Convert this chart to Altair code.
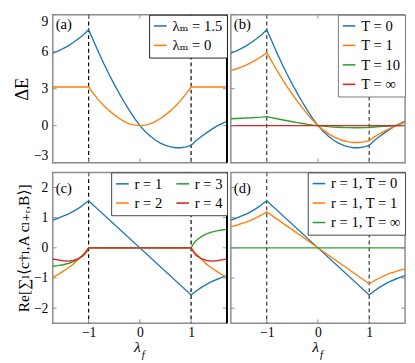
import altair as alt
import pandas as pd

# ---------------- data ----------------
x_grid = [-1.7, -1.6, -1.5, -1.4, -1.3, -1.2, -1.1, -1.0, -0.9, -0.8, -0.7, -0.6,
          -0.5, -0.4, -0.3, -0.2, -0.1, 0.0, 0.1, 0.2, 0.3, 0.4, 0.5, 0.6, 0.7,
          0.8, 0.9, 1.0, 1.1, 1.2, 1.3, 1.4, 1.5, 1.6, 1.7]

# panel (a)
a_lm15 = [5.88, 6.05, 6.25, 6.48, 6.75, 7.05, 7.38, 7.78, 6.85, 5.9, 5.0, 4.15,
          3.35, 2.6, 1.88, 1.2, 0.58, 0.0, -0.45, -0.84, -1.16, -1.41, -1.6, -1.72,
          -1.79, -1.79, -1.72, -1.6, -1.2, -0.88, -0.58, -0.3, -0.04, 0.17, 0.35]
a_lm0 = [3.14, 3.14, 3.14, 3.14, 3.14, 3.14, 3.14, 3.14, 2.58, 2.05, 1.62, 1.22,
         0.88, 0.58, 0.33, 0.15, 0.04, 0.0, 0.04, 0.15, 0.33, 0.58, 0.88, 1.22,
         1.62, 2.05, 2.58, 3.14, 3.14, 3.14, 3.14, 3.14, 3.14, 3.14, 3.14]

# panel (b)
b_T0 = a_lm15
b_T1 = [4.47, 4.6, 4.75, 4.92, 5.13, 5.36, 5.61, 5.91, 5.21, 4.48, 3.8, 3.15,
        2.55, 1.98, 1.43, 0.91, 0.44, 0.0, -0.34, -0.64, -0.88, -1.07, -1.22, -1.31,
        -1.36, -1.36, -1.31, -1.22, -0.91, -0.67, -0.44, -0.23, -0.03, 0.13, 0.27]
b_T10 = [0.56, 0.58, 0.6, 0.62, 0.64, 0.67, 0.7, 0.74, 0.65, 0.56, 0.48, 0.4,
         0.32, 0.25, 0.18, 0.11, 0.05, 0.0, -0.04, -0.08, -0.11, -0.13, -0.15, -0.16,
         -0.17, -0.17, -0.16, -0.15, -0.11, -0.08, -0.05, -0.03, 0.0, 0.02, 0.03]
x_flat = [-1.7, 1.7]
b_Tinf = [0.0, 0.0]

# panel (c)
x_c = [-1.7, -1.6, -1.5, -1.4, -1.3, -1.2, -1.1, -1.05, -1.0,
       1.0, 1.05, 1.1, 1.2, 1.3, 1.4, 1.5, 1.6, 1.7]
c_r1 = [0.92, 0.98, 1.05, 1.12, 1.21, 1.31, 1.43, 1.5, 1.56,
        -1.56, -1.5, -1.43, -1.31, -1.21, -1.12, -1.05, -0.98, -0.92]
c_r2 = [-0.98, -0.89, -0.78, -0.67, -0.54, -0.38, -0.2, -0.1, 0.0,
        0.0, -0.1, -0.2, -0.38, -0.54, -0.67, -0.78, -0.89, -0.98]
c_r3 = [-0.61, -0.59, -0.56, -0.52, -0.46, -0.37, -0.24, -0.15, 0.0,
        0.0, 0.15, 0.24, 0.37, 0.46, 0.52, 0.56, 0.59, 0.61]
c_r4 = [-0.37, -0.4, -0.43, -0.44, -0.42, -0.36, -0.25, -0.15, 0.0,
        0.0, -0.15, -0.25, -0.36, -0.42, -0.44, -0.43, -0.4, -0.37]

# panel (d)
d_T0 = c_r1
d_T1 = [0.7, 0.74, 0.8, 0.85, 0.92, 1.0, 1.09, 1.14, 1.19,
        -1.19, -1.14, -1.09, -1.0, -0.92, -0.85, -0.8, -0.74, -0.7]
d_Tinf = [0.0, 0.0]

x_domain = [-1.7, 1.7]
x_ticks = [-1, 0, 1]
v_lines = [-1, 1]
y_dom_top = [-3, 9]
y_ticks_top = [-3, 0, 3, 6, 9]
y_dom_bot = [-2.5, 2.5]
y_ticks_bot = [-2, -1, 0, 1, 2]

BLUE, ORANGE, GREEN, RED = "#1f77b4", "#ff7f0e", "#2ca02c", "#d62728"
FONT = "Liberation Serif, Times New Roman, DejaVu Serif, serif"
W = 179
H_TOP = 152
H_BOT = 155
FRAME = "#8c8c8c"


def panel(series, domain_order, colors, ydom, yticks, H, tag, tag_y,
          left, bottom, legend_stroke, dash_color, ytitle=None,
          ytitle_size=18, columns=1, flush=False):
    rows = [{"x": x, "y": y, "s": name}
            for name, xs, ys in series for x, y in zip(xs, ys)]
    df = pd.DataFrame(rows)
    xsc = alt.Scale(domain=x_domain, nice=False, zero=False)
    ysc = alt.Scale(domain=ydom, nice=False, zero=False)
    if left:
        yaxis = alt.Axis(values=yticks, format="d", ticks=False, domain=False,
                         grid=False, labelFont=FONT, labelFontSize=14,
                         labelPadding=5, labelColor="black", title=ytitle,
                         titleFont=FONT, titleFontSize=ytitle_size,
                         titleFontWeight="normal", titlePadding=2,
                         titleColor="black", labelFlush=flush)
    else:
        yaxis = None
    if bottom:
        xaxis = alt.Axis(values=x_ticks, format="d", ticks=False, domain=False,
                         grid=False, labelFont=FONT, labelFontSize=14,
                         labelPadding=3, labelColor="black", title=None)
    else:
        xaxis = None
    X = alt.X("x:Q", scale=xsc, axis=xaxis)
    Y = alt.Y("y:Q", scale=ysc, axis=yaxis)

    legend = alt.Legend(title=None, orient="top-right", offset=0,
                        columns=columns, strokeColor=legend_stroke,
                        fillColor="white", padding=4, labelFont=FONT,
                        labelFontSize=15, labelColor="black",
                        symbolType="stroke", symbolSize=169,
                        symbolStrokeWidth=1.6, rowPadding=4, labelOffset=5,
                        columnPadding=10, labelLimit=0)

    vl = alt.Chart(pd.DataFrame({"x": v_lines})).mark_rule(
        strokeDash=[4, 3], color=dash_color, strokeWidth=1.2).encode(x=X)
    lines = alt.Chart(df).mark_line(strokeWidth=1.4, clip=True).encode(
        x=X, y=Y,
        color=alt.Color("s:N", scale=alt.Scale(domain=domain_order, range=colors),
                        legend=legend))
    xt = pd.DataFrame({"x": x_ticks})
    yt = pd.DataFrame({"y": yticks})
    tk = dict(color=FRAME, strokeWidth=1)
    t1 = alt.Chart(xt).mark_rule(**tk).encode(x=X, y=alt.value(H), y2=alt.value(H - 4))
    t2 = alt.Chart(xt).mark_rule(**tk).encode(x=X, y=alt.value(0), y2=alt.value(4))
    t3 = alt.Chart(yt).mark_rule(**tk).encode(y=Y, x=alt.value(0), x2=alt.value(4))
    t4 = alt.Chart(yt).mark_rule(**tk).encode(y=Y, x=alt.value(W - 4), x2=alt.value(W))
    tagc = alt.Chart(pd.DataFrame({"t": [tag]})).mark_text(
        align="left", baseline="middle", font=FONT, fontSize=15, color="black"
    ).encode(x=alt.value(3), y=alt.value(tag_y), text="t:N")
    layers = [vl, lines, t1, t2, t3, t4, tagc]
    if bottom:
        lam = alt.Chart(pd.DataFrame({"t": ["λ"]})).mark_text(
            align="right", baseline="middle", font=FONT, fontSize=16,
            fontStyle="italic", color="black"
        ).encode(x=alt.value(W / 2 + 1), y=alt.value(H + 25), text="t:N")
        sub = alt.Chart(pd.DataFrame({"t": ["f"]})).mark_text(
            align="left", baseline="middle", font=FONT, fontSize=11,
            fontStyle="italic", color="black"
        ).encode(x=alt.value(W / 2 + 2), y=alt.value(H + 33), text="t:N")
        layers += [lam, sub]
    if left:
        border = alt.Chart(pd.DataFrame({"t": [0]})).mark_rule(
            color="black", strokeWidth=2
        ).encode(x=alt.value(W), y=alt.value(0), y2=alt.value(H))
        layers.append(border)
    return alt.layer(*layers).properties(width=W, height=H)


pa = panel([("λₘ = 1.5", x_grid, a_lm15), ("λₘ = 0", x_grid, a_lm0)],
           ["λₘ = 1.5", "λₘ = 0"], [BLUE, ORANGE], y_dom_top, y_ticks_top,
           H_TOP, "(a)", 10, True, False, "#222", "black", ytitle="ΔE",
           ytitle_size=19, flush=True)
pb = panel([("T = 0", x_grid, b_T0), ("T = 1", x_grid, b_T1),
            ("T = 10", x_grid, b_T10), ("T = ∞", x_flat, b_Tinf)],
           ["T = 0", "T = 1", "T = 10", "T = ∞"], [BLUE, ORANGE, GREEN, RED],
           y_dom_top, y_ticks_top, H_TOP, "(b)", 10, False, False, "#777", "#333")
pc = panel([("r = 1", x_c, c_r1), ("r = 2", x_c, c_r2),
            ("r = 3", x_c, c_r3), ("r = 4", x_c, c_r4)],
           ["r = 1", "r = 2", "r = 3", "r = 4"], [BLUE, ORANGE, GREEN, RED],
           y_dom_bot, y_ticks_bot, H_BOT, "(c)", 16, True, True, "#444", "black",
           ytitle="Re[∑ₗ⟨c†ₗ,A cₗ₊ᵣ,B⟩]", ytitle_size=16, columns=2)
pd_ = panel([("r = 1, T = 0", x_c, d_T0), ("r = 1, T = 1", x_c, d_T1),
             ("r = 1, T = ∞", x_flat, d_Tinf)],
            ["r = 1, T = 0", "r = 1, T = 1", "r = 1, T = ∞"], [BLUE, ORANGE, GREEN],
            y_dom_bot, y_ticks_bot, H_BOT, "(d)", 16, False, True, "#444", "#333")

chart = alt.concat(pa, pb, pc, pd_, columns=2, spacing={"row": 6, "column": 0}
                   ).resolve_scale(color="independent", x="independent",
                                   y="independent"
                   ).configure_view(stroke=FRAME, strokeWidth=1.5
                   ).properties(padding={"left": 4, "top": 0, "right": 0, "bottom": 0})

chart.save("out.html", embed_options={"renderer": "svg", "actions": False})
